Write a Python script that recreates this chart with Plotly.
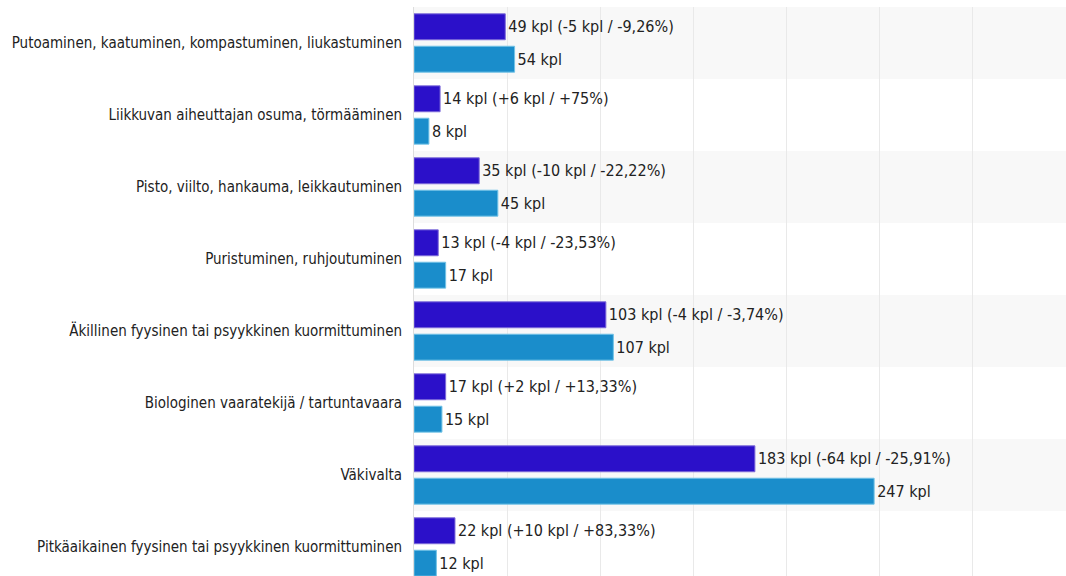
import plotly.graph_objects as go

# Tapaturmatyypit, ylhäältä alas
categories = [
    "Putoaminen, kaatuminen, kompastuminen, liukastuminen",
    "Liikkuvan aiheuttajan osuma, törmääminen",
    "Pisto, viilto, hankauma, leikkautuminen",
    "Puristuminen, ruhjoutuminen",
    "Äkillinen fyysinen tai psyykkinen kuormittuminen",
    "Biologinen vaaratekijä / tartuntavaara",
    "Väkivalta",
    "Pitkäaikainen fyysinen tai psyykkinen kuormittuminen",
]
current = [49, 14, 35, 13, 103, 17, 183, 22]
previous = [54, 8, 45, 17, 107, 15, 247, 12]

COLORS = {
    "current": "#2b10c9",
    "current_line": "#7d6ad9",
    "previous": "#1a8dcb",
    "previous_line": "#72c3e6",
    "stripe": "#f8f8f8",
    "grid": "#e9e9e9",
    "text": "#222222",
}
FONT = "DejaVu Sans Condensed, DejaVu Sans, sans-serif"


def fmt_pct(x):
    s = f"{x:+.2f}".rstrip("0").rstrip(".")
    return s.replace(".", ",")


def change_label(cur, prev):
    diff = cur - prev
    return f"{cur} kpl ({diff:+d} kpl / {fmt_pct(diff / prev * 100)}%)"


current_text = [change_label(c, p) for c, p in zip(current, previous)]
previous_text = [f"{p} kpl" for p in previous]

fig = go.Figure()

# edellinen jakso ensin -> alempi palkki ryhmässä
fig.add_trace(
    go.Bar(
        y=categories,
        x=previous,
        orientation="h",
        text=previous_text,
        textposition="outside",
        constraintext="none",
        cliponaxis=False,
        marker=dict(color=COLORS["previous"], line=dict(color=COLORS["previous_line"], width=1)),
        textfont=dict(family=FONT, size=16, color=COLORS["text"]),
        name="Edellinen",
    )
)
fig.add_trace(
    go.Bar(
        y=categories,
        x=current,
        orientation="h",
        text=current_text,
        textposition="outside",
        constraintext="none",
        cliponaxis=False,
        marker=dict(color=COLORS["current"], line=dict(color=COLORS["current_line"], width=1)),
        textfont=dict(family=FONT, size=16, color=COLORS["text"]),
        name="Nykyinen",
    )
)

# vuorottelevat taustaraidat
n = len(categories)
shapes = []
for i in range(0, n, 2):
    pos = n - 1 - i
    shapes.append(
        dict(
            type="rect",
            xref="paper",
            yref="y",
            x0=0,
            x1=1,
            y0=pos - 0.5,
            y1=pos + 0.5,
            fillcolor=COLORS["stripe"],
            line=dict(width=0),
            layer="below",
        )
    )

fig.update_layout(
    width=1066,
    height=576,
    margin=dict(l=414, r=0, t=7, b=0),
    barmode="group",
    bargap=0.1,
    bargroupgap=0.2,
    showlegend=False,
    paper_bgcolor="white",
    plot_bgcolor="white",
    font=dict(family=FONT, size=15, color=COLORS["text"]),
    shapes=shapes,
)
fig.update_xaxes(
    range=[0, 350],
    dtick=50,
    showticklabels=False,
    showgrid=True,
    gridcolor=COLORS["grid"],
    zeroline=False,
    layer="below traces",
)
fig.update_yaxes(
    type="category",
    categoryorder="array",
    categoryarray=categories[::-1],
    range=[-0.403, 7.5],
    showline=True,
    linecolor="#dddddd",
    ticklabelstandoff=8,
    showgrid=False,
    automargin=False,
)

# selaimen oletusmarginaali pois, jotta kuva täyttää ikkunan
fig.write_html(
    "out.html",
    config={"displayModeBar": False},
    post_script="document.body.style.margin='0';",
)
